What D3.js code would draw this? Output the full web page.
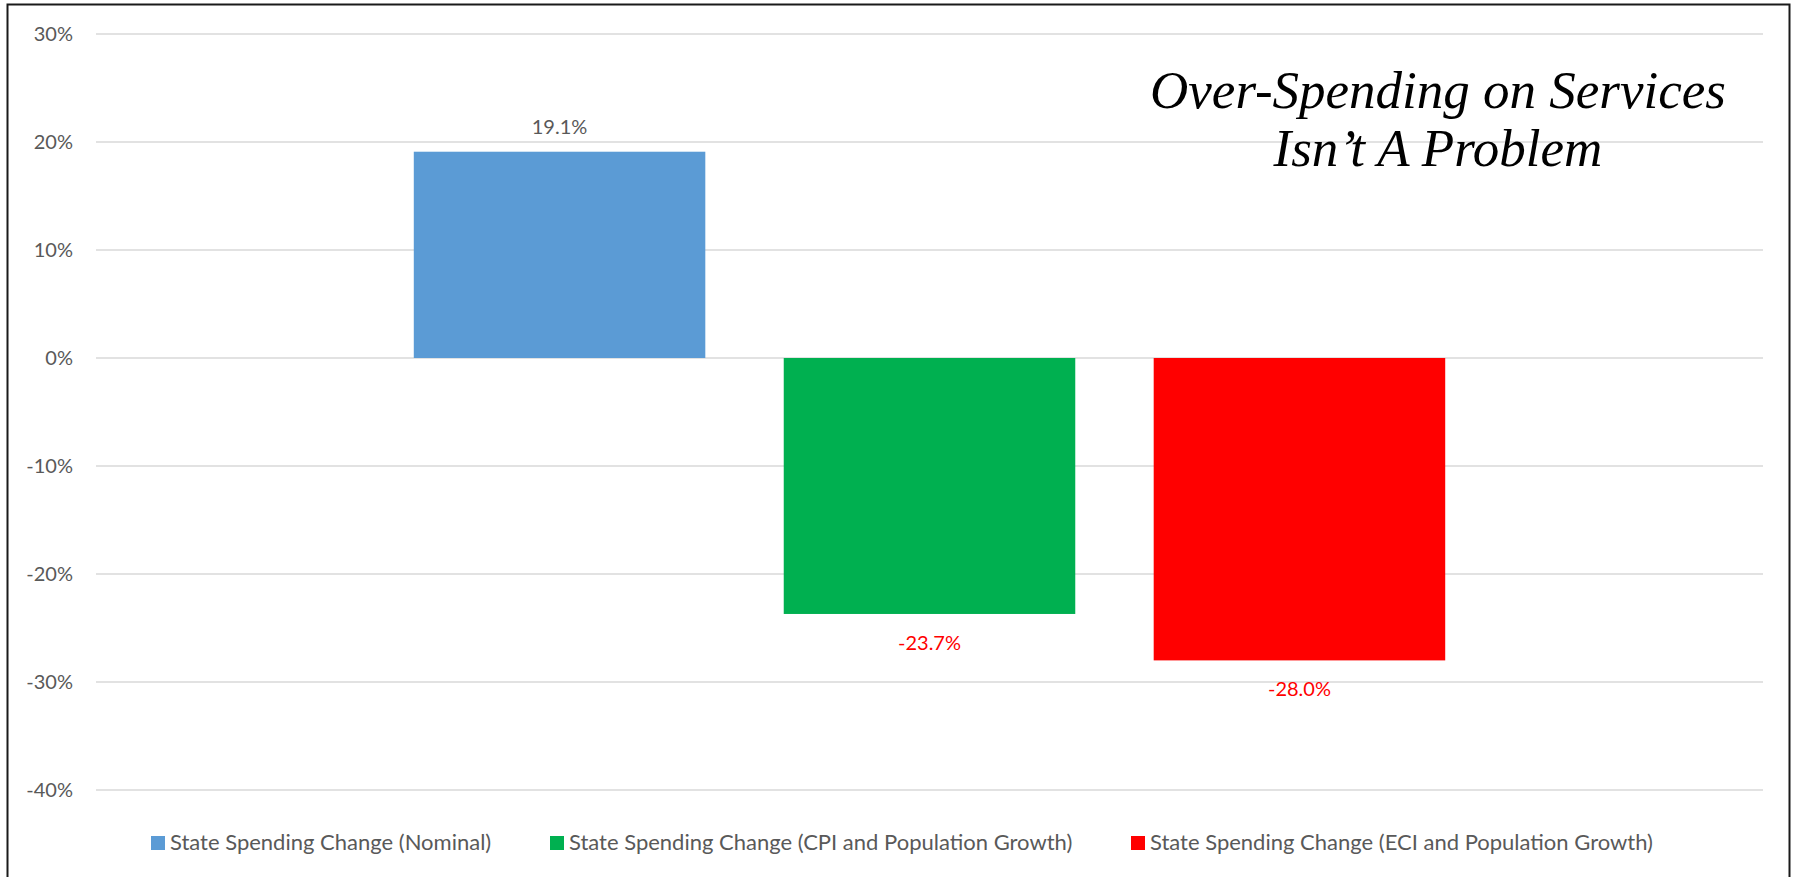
<!DOCTYPE html>
<html>
<head>
<meta charset="utf-8">
<script src="https://cdn.jsdelivr.net/npm/d3@7"></script>
<style>
  html, body { margin: 0; padding: 0; background: #fff; }
  svg { display: block; }
  .tick text, .lbl, .legend text { font-family: Lato, "Noto Sans", sans-serif; }
</style>
</head>
<body>
<svg id="chart" width="1797" height="877"></svg>
<script>
// Series shown as three side-by-side bars
const seriesNames = [
  "State Spending Change (Nominal)",
  "State Spending Change (CPI and Population Growth)",
  "State Spending Change (ECI and Population Growth)"
];
const seriesValues = [19.1, -23.7, -28.0];
const seriesColors = ["#5B9BD5", "#00B050", "#FF0000"];
const labelColors = ["#595959", "#FF0000", "#FF0000"];
const yTicks = [30, 20, 10, 0, -10, -20, -30, -40];
const titleLines = ["Over-Spending on Services", "Isn\u2019t A Problem"];

const svg = d3.select("#chart");

// Plot area
const plotLeft = 96, plotRight = 1763, plotTop = 34, plotBottom = 790;

const y = d3.scaleLinear().domain([-40, 30]).range([plotBottom, plotTop]);
const x = d3.scaleBand()
  .domain(seriesNames)
  .range([plotLeft, plotRight])
  .paddingInner(0.212)
  .paddingOuter(0.859);

// Outer frame
svg.append("rect")
  .attr("x", 7.5).attr("y", 4.5)
  .attr("width", 1782).attr("height", 900)
  .attr("fill", "#fff")
  .attr("stroke", "#1a1a1a").attr("stroke-width", 2);

// Gridlines
svg.append("g")
  .selectAll("line")
  .data(yTicks)
  .join("line")
  .attr("x1", plotLeft).attr("x2", plotRight)
  .attr("y1", d => y(d)).attr("y2", d => y(d))
  .attr("stroke", "#D9D9D9").attr("stroke-width", 1.5);

// Y axis labels
const yAxis = d3.axisLeft(y)
  .tickValues(yTicks)
  .tickFormat(d => d + "%")
  .tickSize(0)
  .tickPadding(0);
const gy = svg.append("g")
  .attr("transform", `translate(${plotLeft - 23},0)`)
  .call(yAxis);
gy.select(".domain").remove();
gy.selectAll(".tick text")
  .attr("fill", "#595959")
  .style("font-size", "20px");

// Bars
svg.append("g")
  .selectAll("rect")
  .data(seriesNames)
  .join("rect")
  .attr("x", d => x(d))
  .attr("width", x.bandwidth())
  .attr("y", (d, i) => y(Math.max(0, seriesValues[i])))
  .attr("height", (d, i) => Math.abs(y(seriesValues[i]) - y(0)))
  .attr("fill", (d, i) => seriesColors[i]);

// Value labels
svg.append("g")
  .selectAll("text")
  .data(seriesNames)
  .join("text")
  .attr("class", "lbl")
  .attr("x", d => x(d) + x.bandwidth() / 2)
  .attr("y", (d, i) => seriesValues[i] >= 0 ? y(seriesValues[i]) - 18 : y(seriesValues[i]) + 36)
  .attr("text-anchor", "middle")
  .attr("fill", (d, i) => labelColors[i])
  .style("font-size", "20px")
  .text((d, i) => seriesValues[i].toFixed(1) + "%");

// Legend
const legend = svg.append("g").attr("class", "legend");
const legendX = [151, 550, 1131];
seriesNames.forEach((name, i) => {
  const g = legend.append("g").attr("transform", `translate(${legendX[i]},836)`);
  g.append("rect").attr("width", 14).attr("height", 14).attr("fill", seriesColors[i]);
  g.append("text")
    .attr("x", 19).attr("y", 14)
    .attr("fill", "#595959")
    .style("font-size", "22px")
    .text(name);
});

// Title, two centered italic lines
const title = svg.append("g");
const titleFont = 53;
titleLines.forEach((t, i) => {
  title.append("text")
    .attr("x", 1438)
    .attr("y", 108 + i * 58)
    .attr("text-anchor", "middle")
    .style("font-family", "'Liberation Serif', 'DejaVu Serif', serif")
    .style("font-style", "italic")
    .style("font-size", titleFont + "px")
    .attr("fill", "#000")
    .text(t);
});
</script>
</body>
</html>
